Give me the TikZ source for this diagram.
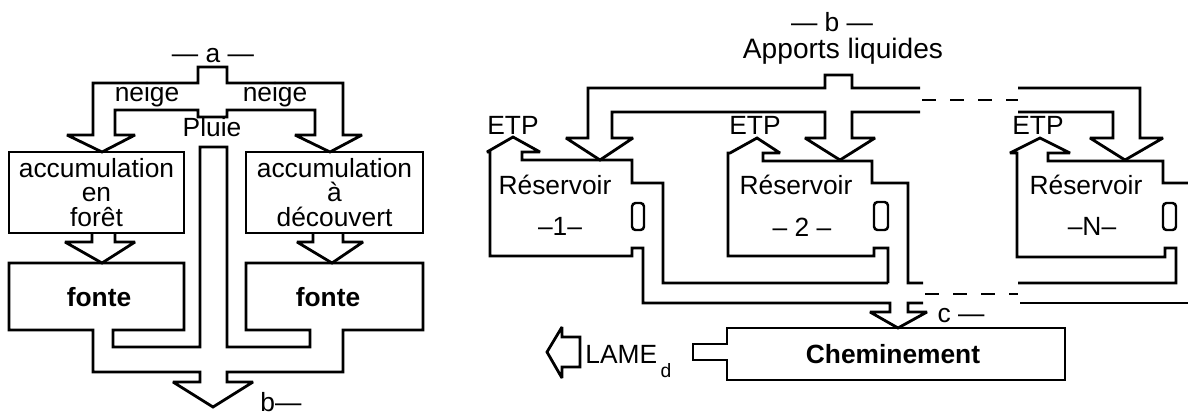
\documentclass[tikz,border=0pt]{standalone}
\usepackage{fontspec}
\setmainfont{Liberation Sans}
\usetikzlibrary{arrows.meta,positioning}

\begin{document}
\begin{tikzpicture}[x=0.02cm,y=-0.02cm,font=\fontsize{15}{14}\selectfont]
\tikzstyle{pipe}=[line width=1.6pt,line join=miter,miter limit=3]
\tikzstyle{txt}=[inner sep=0pt,anchor=base]
\tikzstyle{accbox}=[draw,line width=1.6pt,inner sep=0pt,align=center,minimum width=3.5cm,minimum height=1.62cm]
\tikzstyle{dashgap}=[line width=1.6pt,dash pattern=on 8pt off 8pt]
\tikzstyle{slot}=[line width=1.4pt,rounded corners=2pt]
\useasboundingbox (0,0) rectangle (1188,414);
% panel a
\node[txt] (a) at (213,62) {--- a ---};
\node[txt] (neigeF) at (147,101) {neige};
\node[txt] (neigeD) at (275,101) {neige};
\node[txt] (pluie) at (212,136) {Pluie};
\node[accbox] (accF) at (96.5,192.5) {accumulation\\en\\forêt};
\node[accbox,minimum width=3.54cm] (accD) at (334.5,192.5) {accumulation\\à\\découvert};
\node[txt,font=\fontsize{15}{14}\selectfont\bfseries] (fonteF) at (99,306) {fonte};
\node[txt,font=\fontsize{15}{14}\selectfont\bfseries] (fonteD) at (328,306) {fonte};
\node[txt] (bout) at (281,411) {b---};
\draw[pipe] (93,135) -- (93,83) -- (198,83) -- (198,67) -- (227,67) -- (227,83) -- (343,83) -- (343,135) -- (362,135) -- (330,152) -- (295,135) -- (315,135) -- (315,110) -- (227,110) -- (227,117) -- (198,117) -- (198,110) -- (115,110) -- (115,135) -- (135,135) -- (102,152) -- (67,135) -- cycle;
\draw[pipe] (92,233) -- (92,242) -- (65,242) -- (102,263) -- (135,242) -- (115,242) -- (115,233);
\draw[pipe] (313,233) -- (313,242) -- (297,242) -- (332,263) -- (363,242) -- (343,242) -- (343,233);
\draw[pipe] (93,330) -- (9,330) -- (9,263) -- (184,263) -- (184,330) -- (113,330) -- (113,347) -- (200,347) -- (200,147) -- (227,147) -- (227,347) -- (310,347) -- (310,330) -- (246,330) -- (246,263) -- (423,263) -- (423,330) -- (343,330) -- (343,372) -- (227,372) -- (227,382) -- (253,382) -- (213,407) -- (173,382) -- (200,382) -- (200,372) -- (93,372) -- cycle;
% panel b
\node[txt] (b) at (832,31) {--- b ---};
\node[txt,font=\fontsize{16}{16}\selectfont] (apports) at (843,58) {Apports liquides};
\node[txt] (etp1) at (513,134) {ETP};
\node[txt] (etp2) at (755,134) {ETP};
\node[txt] (etpN) at (1038,134) {ETP};
\node[txt] (res1) at (555,194) {Réservoir};
\node[txt] (res2) at (796,194) {Réservoir};
\node[txt] (resN) at (1086,194) {Réservoir};
\node[txt] (num1) at (560,235) {--1--};
\node[txt] (num2) at (802,236) {-- 2 --};
\node[txt] (numN) at (1092,235) {--N--};
\draw[pipe] (920,88) -- (852,88) -- (852,75) -- (825,75) -- (825,88) -- (588,88) -- (588,138) -- (566,138) -- (600,160) -- (633,138) -- (612,138) -- (612,112) -- (825,112) -- (825,138) -- (805,138) -- (840,160) -- (875,138) -- (852,138) -- (852,112) -- (920,112);
\draw[dashgap] (922,100) -- (1018,100);
\draw[pipe] (1018,112) -- (1113,112) -- (1113,138) -- (1090,138) -- (1125,160) -- (1163,138) -- (1140,138) -- (1140,88) -- (1018,88);
\draw[pipe] (923,303) -- (908,303) -- (908,312) -- (927,312) -- (898,328) -- (870,312) -- (890,312) -- (890,303) -- (643,303) -- (643,248) -- (632,248) -- (632,256) -- (490,256) -- (490,152) -- (487,152) -- (513,137) -- (540,152) -- (522,152) -- (522,160) -- (632,160) -- (632,183) -- (663,183) -- (663,283) -- (888,283);
\draw[pipe] (888,283) -- (888,248) -- (874,248) -- (874,256) -- (728,256) -- (728,153) -- (730,153) -- (757,138) -- (780,153) -- (763,153) -- (763,161) -- (872,161) -- (872,183) -- (908,183) -- (908,283) -- (923,283);
\draw[dashgap] (925,294) -- (1018,294);
\draw[pipe] (1188,183) -- (1163,183) -- (1163,161) -- (1048,161) -- (1048,153) -- (1070,153) -- (1040,138) -- (1010,153) -- (1017,153) -- (1017,257) -- (1165,257) -- (1165,248) -- (1176,248) -- (1176,283) -- (1018,283);
\draw[pipe] (1020,303) -- (1188,303);
\draw[slot] (632,203) rectangle (644,230);
\draw[slot] (874,202) rectangle (888,230);
\draw[slot] (1163,203) rectangle (1176,230);
\node[txt] (c) at (961,322) {c ---};
\draw[pipe] (727,344) -- (727,328) -- (1065,328) -- (1065,380) -- (727,380) -- (727,360) -- (693,360) -- (693,344) -- cycle;
\node[txt,font=\fontsize{15}{14}\selectfont\bfseries] (chem) at (893,363) {Cheminement};
\draw[pipe] (547,352) -- (562,327) -- (562,337) -- (580,337) -- (580,367) -- (562,367) -- (562,378) -- cycle;
\node[txt,anchor=base west] (lame) at (585,363) {LAME\kern2pt\raisebox{-8pt}{\fontsize{11}{11}\selectfont d}};
\end{tikzpicture}
\end{document}
